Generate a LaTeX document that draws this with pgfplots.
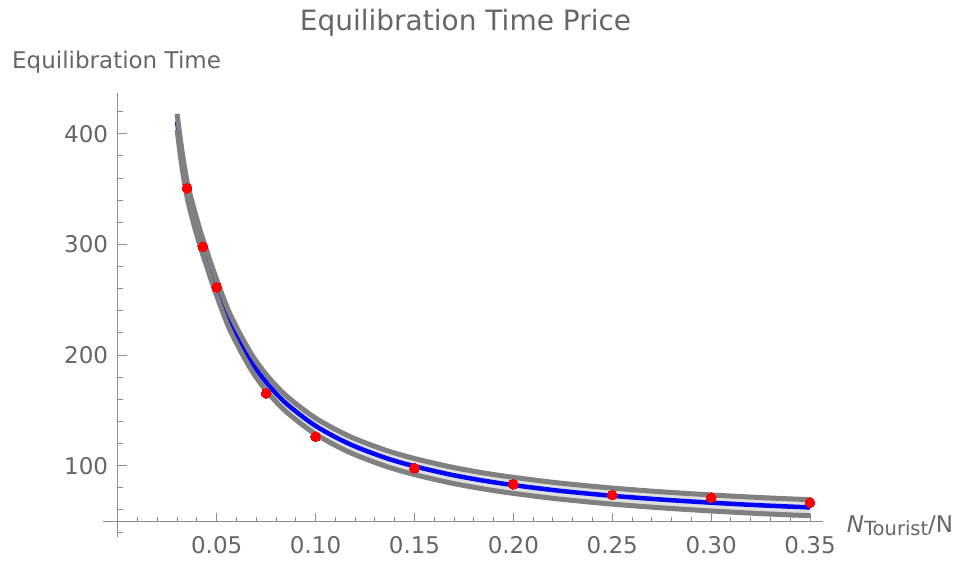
\documentclass[border=0pt]{standalone}
\usepackage{fontspec}
\setmainfont{DejaVu Sans}
\usepackage{pgfplots}
\pgfplotsset{compat=1.18}
\usepgfplotslibrary{fillbetween}
\usepackage{pgfplotstable}
\definecolor{axgray}{HTML}{8C8C8C}
\definecolor{txtgray}{HTML}{666666}
\definecolor{curvegray}{HTML}{808080}
\definecolor{bandgray}{HTML}{DEDEDE}

\pgfplotstableread{
x blue upper lower
0.030 411 418 403.5
0.032 383 390 375.5
0.035 350 357 342.5
0.039 322 329 314.5
0.043 298 305 290.5
0.050 261 268 253.5
0.057 229 236 221.5
0.067 195.5 202.5 188
0.075 175.5 182.5 168
0.085 156.5 163.5 149
0.100 136 143 128.5
0.117 119.7 126.7 112.2
0.135 107.3 114.3 99.8
0.150 99.5 106.5 92
0.170 91.3 98.3 83.8
0.192 84.5 91.5 77
0.220 78.0 85 70.5
0.248 73.1 80.1 65.6
0.275 69.4 76.4 61.9
0.300 66.6 73.6 59.1
0.325 64.2 71.2 56.7
0.350 62.3 69.3 54.8
}\curves

\pgfplotstableread{
x y
0.035 350.8
0.043 298.0
0.050 261.3
0.075 165.5
0.100 126.3
0.150 97.7
0.200 83.2
0.250 73.5
0.300 71.1
0.350 66.6
}\points

\begin{document}
\begin{tikzpicture}
\begin{axis}[
  at={(0pt,0pt)}, anchor=south west,
  scale only axis, width=705.3pt, height=428.9pt,
  xmin=0, xmax=0.3566, ymin=49.4, ymax=437,
  axis lines=left,
  axis line style={-, axgray, line width=1pt},
  tick style={axgray, line width=1pt},
  tick align=inside,
  major tick length=9pt, minor tick length=5pt,
  xtick={0.05,0.10,0.15,0.20,0.25,0.30,0.35},
  xticklabels={0.05,0.10,0.15,0.20,0.25,0.30,0.35},
  ytick={100,200,300,400},
  yticklabels={100,200,300,400},
  minor xtick={0.01,0.02,0.03,0.04,0.06,0.07,0.08,0.09,0.11,0.12,0.13,0.14,0.16,0.17,0.18,0.19,0.21,0.22,0.23,0.24,0.26,0.27,0.28,0.29,0.31,0.32,0.33,0.34},
  minor ytick={60,80,120,140,160,180,220,240,260,280,320,340,360,380,420},
  ticklabel style={font=\fontsize{23}{23}\selectfont, text=txtgray},
  xticklabel style={inner sep=0pt, anchor=north, yshift=-14.3pt},
  yticklabel style={inner sep=0pt, anchor=east, xshift=-9.5pt},
  clip=false,
]
\addplot[draw=none, smooth, name path=up, forget plot] table[x=x,y=upper]{\curves};
\addplot[draw=none, smooth, name path=lo, forget plot] table[x=x,y=lower]{\curves};
\addplot[bandgray, forget plot] fill between[of=up and lo];
\addplot[blue, line width=4.5pt, smooth] table[x=x,y=blue]{\curves};
\addplot[curvegray, line width=5pt, smooth] table[x=x,y=upper]{\curves};
\addplot[curvegray, line width=5pt, smooth] table[x=x,y=lower]{\curves};
\addplot[red, only marks, mark=*, mark size=4.9pt, mark options={fill=red, draw=red, line width=0pt}] table[x=x,y=y]{\points};
\draw[axgray, line width=1pt] (axis cs:-0.0075,49.4) -- (axis cs:0,49.4);
\draw[axgray, line width=1pt] (axis cs:0,49.4) -- (axis cs:0,35.6);
\draw[axgray, line width=1pt] (axis cs:0,40) -- ++(5pt,0pt);
\end{axis}
\node[anchor=base west, inner sep=0pt, font=\fontsize{23}{23}\selectfont, text=txtgray] at (-105.8pt,453.4pt) {Equilibration Time};
\node[anchor=base, inner sep=0pt, font=\fontsize{28}{28}\selectfont, text=txtgray] at (347.7pt,490.7pt) {Equilibration Time Price};
\node[anchor=base west, inner sep=0pt, font=\fontsize{23}{23}\selectfont, text=txtgray] at (728.9pt,-11pt) {\textit{N}\raisebox{-3pt}{\fontsize{19.5}{19.5}\selectfont Tourist}/N};
\path (-117.8pt,-40.3pt) rectangle (853.2pt,521.7pt);
\end{tikzpicture}
\end{document}
